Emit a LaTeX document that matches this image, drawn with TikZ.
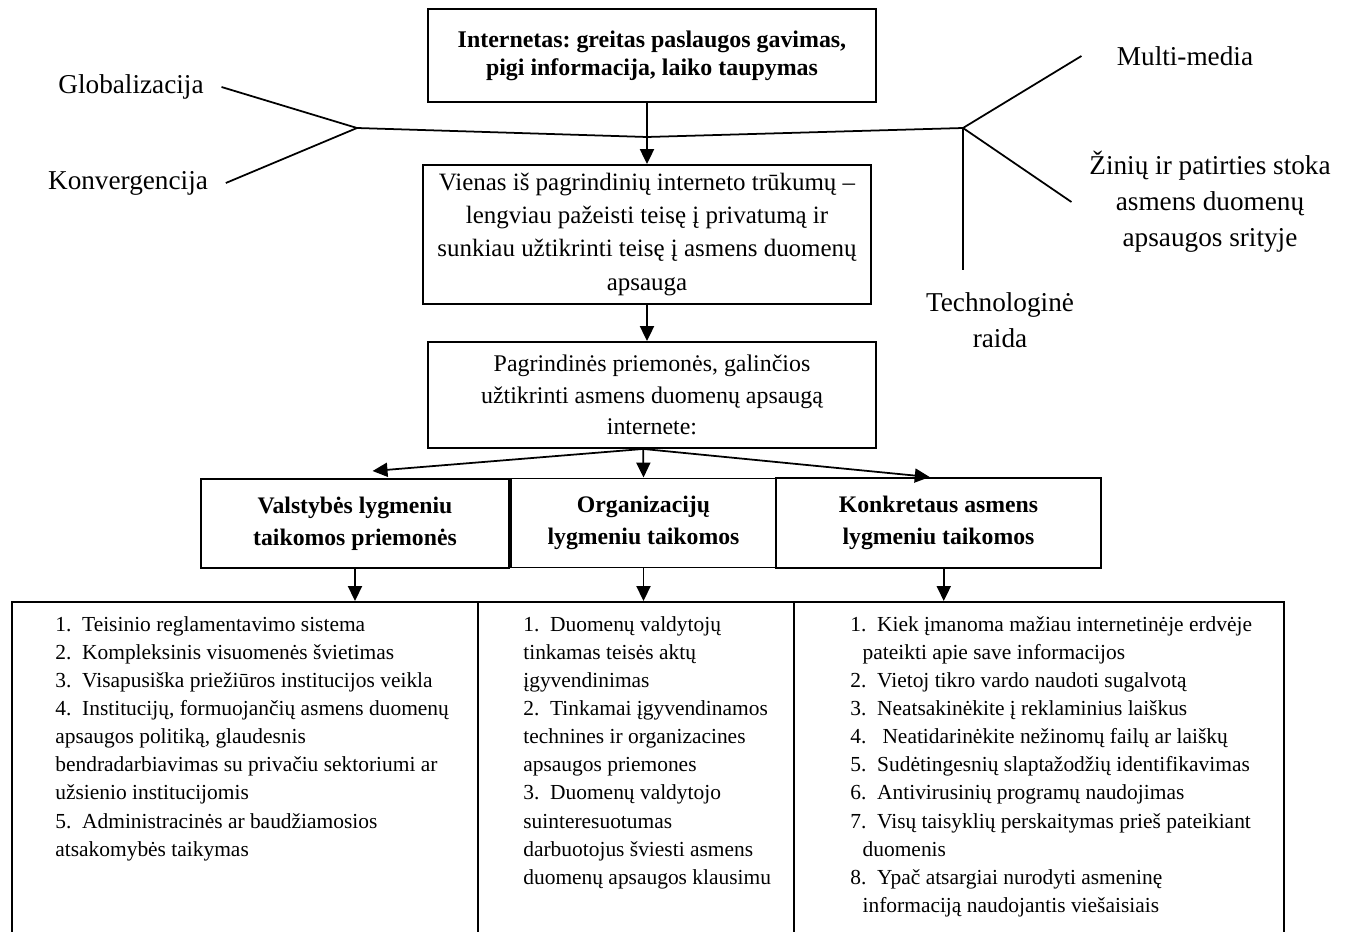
\documentclass[tikz,border=0pt]{standalone}
\usepackage{fontspec}
\setmainfont{Liberation Serif}
\usetikzlibrary{arrows.meta}
\frenchspacing

\begin{document}
\begin{tikzpicture}[x=0.02cm,y=-0.02cm,
  box/.style={draw,line width=1.1pt,align=center,inner sep=0pt},
  hd/.style={box,font=\bfseries\fontsize{13.6}{16}\selectfont},
  lbl/.style={align=center,inner xsep=10pt,font=\fontsize{15.5}{20.5}\selectfont},
  lst/.style={align=left,inner sep=0pt,anchor=north west,font=\fontsize{12.2}{16}\selectfont},
  col/.style={draw,line width=1.1pt,anchor=north west,inner sep=0pt,minimum height=7cm},
  ln/.style={line width=1pt},
  arr/.style={line width=1pt,-{Triangle[length=8.5pt,width=8pt]}}]
  \useasboundingbox (0,0) rectangle (1347,932);
  \clip (0,0) rectangle (1347,932);
  \node[hd,minimum width=8.96cm,minimum height=1.86cm] (inet) at (652,55.5) {Internetas: greitas paslaugos gavimas,\\ pigi informacija, laiko taupymas};
  \node[box,font=\fontsize{14.2}{18.8}\selectfont,minimum width=8.96cm,minimum height=2.78cm] (trk) at (647,234.5) {Vienas iš pagrindinių interneto trūkumų --\\ lengviau pažeisti teisę į privatumą ir\\ sunkiau užtikrinti teisę į asmens duomenų\\ apsauga};
  \node[box,font=\fontsize{13.6}{17.9}\selectfont,minimum width=8.96cm,minimum height=2.12cm] (prm) at (652,395) {Pagrindinės priemonės, galinčios\\ užtikrinti asmens duomenų apsaugą\\ internete:};
  \node[hd,font=\bfseries\fontsize{13.5}{18.2}\selectfont,minimum width=6.16cm,minimum height=1.78cm] (vals) at (355,523.5) {Valstybės lygmeniu\\ taikomos priemonės};
  \node[hd,font=\bfseries\fontsize{13.5}{18.2}\selectfont,minimum width=5.3cm,minimum height=1.78cm] (org) at (643.5,523) {Organizacijų\\ lygmeniu taikomos};
  \node[hd,font=\bfseries\fontsize{13.5}{18.2}\selectfont,minimum width=6.5cm,minimum height=1.8cm] (asm) at (938.5,523) {Konkretaus asmens\\ lygmeniu taikomos};
  \node[col,minimum width=9.32cm] (l1) at (11,601) {};
  \node[col,minimum width=6.32cm] (l2) at (477,601) {};
  \node[col,minimum width=9.8cm] (l3) at (793,601) {};
  \node[lst] (t1) at (55,616) {1.\enspace Teisinio reglamentavimo sistema\\
    2.\enspace Kompleksinis visuomenės švietimas\\
    3.\enspace Visapusiška priežiūros institucijos veikla\\
    4.\enspace Institucijų, formuojančių asmens duomenų\\
    apsaugos politiką, glaudesnis\\
    bendradarbiavimas su privačiu sektoriumi ar\\
    užsienio institucijomis\\
    5.\enspace Administracinės ar baudžiamosios\\
    atsakomybės taikymas};
  \node[lst] (t2) at (523,616) {1.\ \ Duomenų valdytojų\\
    tinkamas teisės aktų\\
    įgyvendinimas\\
    2.\ \ Tinkamai įgyvendinamos\\
    technines ir organizacines\\
    apsaugos priemones\\
    3.\ \ Duomenų valdytojo\\
    suinteresuotumas\\
    darbuotojus šviesti asmens\\
    duomenų apsaugos klausimu};
  \node[lst] (t3) at (850,616) {1.\enspace Kiek įmanoma mažiau internetinėje erdvėje\\
    \hspace*{7pt}pateikti apie save informacijos\\
    2.\enspace Vietoj tikro vardo naudoti sugalvotą\\
    3.\enspace Neatsakinėkite į reklaminius laiškus\\
    4.\enspace\ Neatidarinėkite nežinomų failų ar laiškų\\
    5.\enspace Sudėtingesnių slaptažodžių identifikavimas\\
    6.\enspace Antivirusinių programų naudojimas\\
    7.\enspace Visų taisyklių perskaitymas prieš pateikiant\\
    \hspace*{7pt}duomenis\\
    8.\enspace Ypač atsargiai nurodyti asmeninę\\
    \hspace*{7pt}informaciją naudojantis viešaisiais};
  \node[lbl] (glob) at (131,87) {Globalizacija};
  \node[lbl] (konv) at (128,183) {Konvergencija};
  \node[lbl] (mm) at (1185,56) {Multi-media};
  \node[lbl] (zin) at (1210,202) {Žinių ir patirties stoka\\ asmens duomenų\\ apsaugos srityje};
  \node[lbl] (tech) at (1000,320) {Technologinė\\ raida};
  \coordinate (jl) at (357,128);
  \coordinate (jm) at (647,137);
  \coordinate (jr) at (963,128);
  \draw[ln] (jl) -- (jm) -- (jr);
  \draw[ln] (glob.east) -- (jl);
  \draw[ln] (konv.east) -- (jl);
  \draw[ln] (jr) -- ([xshift=-10pt]mm.west);
  \draw[ln] (jr) -- (zin.west);
  \draw[ln] (jr) -- ([yshift=9pt]tech.north -| jr);
  \draw[ln] (inet.south -| jm) -- (jm);
  \draw[arr] (jm) -- (trk.north -| jm);
  \draw[arr] (trk.south) -- (prm.north -| trk.south);
  \coordinate (ps) at ([xshift=-5pt]prm.south);
  \draw[arr] (ps) -- ([xshift=10pt,yshift=4pt]vals.north);
  \draw[arr] (ps) -- (org.north);
  \draw[arr] (ps) -- ([xshift=-5pt]asm.north);
  \draw[arr] (vals.south) -- (vals.south |- l1.north);
  \draw[arr] (org.south) -- (org.south |- l2.north);
  \draw[arr] ([xshift=3pt]asm.south) -- ([xshift=3pt]asm.south |- l3.north);
\end{tikzpicture}
\end{document}
